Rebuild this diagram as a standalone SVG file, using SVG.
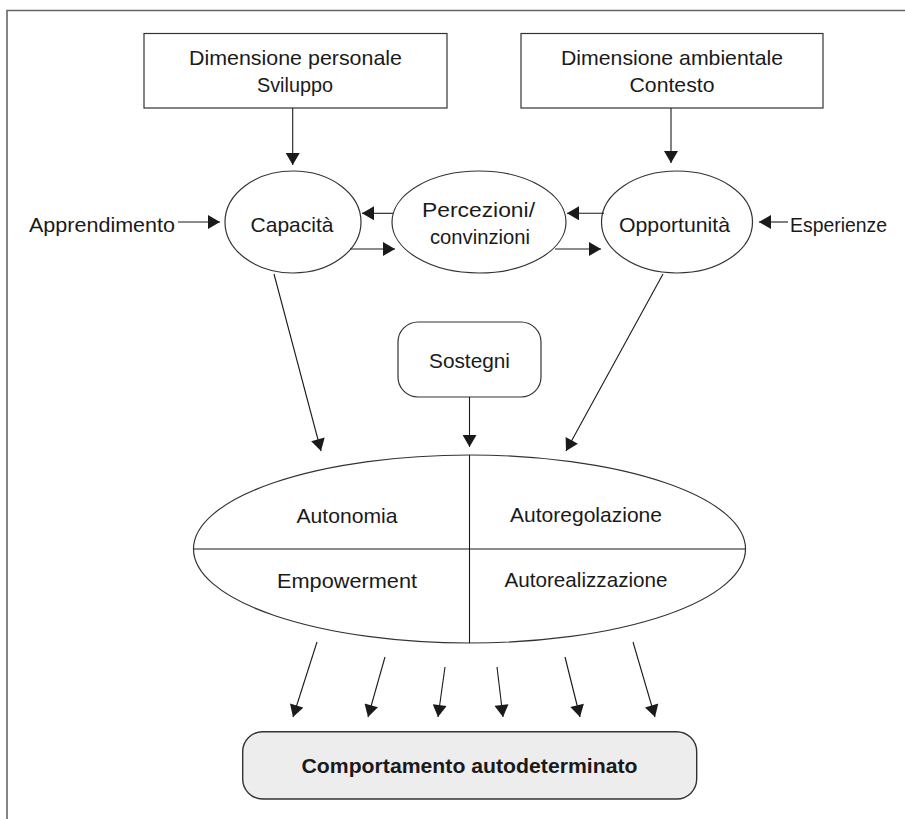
<svg xmlns="http://www.w3.org/2000/svg" width="905" height="819" viewBox="0 0 905 819">
<style>
text{font-family:"Liberation Sans",Arial,sans-serif;font-size:21px;fill:#1a1a1a;text-anchor:middle}
.b{font-weight:bold;font-size:20px}
.shape{fill:#fff;stroke:#333;stroke-width:1.2}
.ln{fill:none;stroke:#1a1a1a;stroke-width:1.1}
.frame{fill:none;stroke:#666;stroke-width:1.6}
</style>
<defs>
<marker id="ah" markerUnits="userSpaceOnUse" markerWidth="14" markerHeight="14" viewBox="0 0 12 14" refX="12" refY="7" orient="auto">
<path d="M0,0 L12,7 L0,14 Z" fill="#1a1a1a"/>
</marker>
</defs>
<path class="frame" d="M7,819 V10.5 H905"/>
<g id="dim-personale">
<rect class="shape" x="144" y="33.5" width="303" height="74.5"/>
<text x="295.5" y="65" textLength="213" lengthAdjust="spacingAndGlyphs">Dimensione personale</text>
<text x="295" y="92" textLength="76" lengthAdjust="spacingAndGlyphs">Sviluppo</text>
</g>
<g id="dim-ambientale">
<rect class="shape" x="521" y="33.5" width="302" height="74.5"/>
<text x="672" y="65" textLength="222" lengthAdjust="spacingAndGlyphs">Dimensione ambientale</text>
<text x="672" y="92" textLength="85" lengthAdjust="spacingAndGlyphs">Contesto</text>
</g>
<g id="apprendimento"><text x="102" y="232" textLength="146" lengthAdjust="spacingAndGlyphs">Apprendimento</text></g>
<g id="esperienze"><text x="838.5" y="232" textLength="97" lengthAdjust="spacingAndGlyphs">Esperienze</text></g>
<g id="capacita">
<ellipse class="shape" cx="293" cy="222" rx="68" ry="51"/>
<text x="292" y="232" textLength="83" lengthAdjust="spacingAndGlyphs">Capacità</text>
</g>
<g id="percezioni">
<ellipse class="shape" cx="479" cy="222" rx="87" ry="51"/>
<text x="478.5" y="217" textLength="113" lengthAdjust="spacingAndGlyphs">Percezioni/</text>
<text x="480" y="244" textLength="100" lengthAdjust="spacingAndGlyphs">convinzioni</text>
</g>
<g id="opportunita">
<ellipse class="shape" cx="677" cy="222" rx="75.5" ry="51"/>
<text x="674.5" y="232" textLength="111" lengthAdjust="spacingAndGlyphs">Opportunità</text>
</g>
<g id="sostegni">
<rect class="shape" x="398" y="322" width="143" height="75" rx="20"/>
<text x="469.5" y="368" textLength="81" lengthAdjust="spacingAndGlyphs">Sostegni</text>
</g>
<g id="componenti">
<ellipse class="shape" cx="469.5" cy="549" rx="276" ry="94"/>
<line class="ln" x1="469.5" y1="455" x2="469.5" y2="643"/>
<line class="ln" x1="193.5" y1="549" x2="745.5" y2="549"/>
<text x="347" y="523" textLength="101" lengthAdjust="spacingAndGlyphs">Autonomia</text>
<text x="586" y="522" textLength="152" lengthAdjust="spacingAndGlyphs">Autoregolazione</text>
<text x="347" y="588" textLength="140" lengthAdjust="spacingAndGlyphs">Empowerment</text>
<text x="586" y="587" textLength="163" lengthAdjust="spacingAndGlyphs">Autorealizzazione</text>
</g>
<g id="comportamento">
<rect x="242.7" y="731.7" width="454" height="67.3" rx="20" fill="#ededed" stroke="#333" stroke-width="1.4"/>
<text class="b" x="469.5" y="773" textLength="336" lengthAdjust="spacingAndGlyphs">Comportamento autodeterminato</text>
</g>
<g id="connectors" class="ln" marker-end="url(#ah)">
<line x1="292.7" y1="108" x2="292.7" y2="165" marker-end="url(#ah)"/>
<line x1="671" y1="108" x2="671" y2="163" marker-end="url(#ah)"/>
<line x1="178" y1="222" x2="220" y2="222" marker-end="url(#ah)"/>
<line x1="788" y1="222" x2="759" y2="222" marker-end="url(#ah)"/>
<line x1="393" y1="213.3" x2="362" y2="213.3" marker-end="url(#ah)"/>
<line x1="350" y1="249" x2="395" y2="249" marker-end="url(#ah)"/>
<line x1="604" y1="213.3" x2="567" y2="213.3" marker-end="url(#ah)"/>
<line x1="555" y1="249" x2="601" y2="249" marker-end="url(#ah)"/>
<line x1="274" y1="274" x2="321" y2="451" marker-end="url(#ah)"/>
<line x1="663" y1="274" x2="566" y2="451" marker-end="url(#ah)"/>
<line x1="469.5" y1="397" x2="469.5" y2="447" marker-end="url(#ah)"/>
<line x1="317" y1="642" x2="293" y2="717" marker-end="url(#ah)"/>
<line x1="385" y1="657" x2="368" y2="717" marker-end="url(#ah)"/>
<line x1="445" y1="667" x2="438" y2="717" marker-end="url(#ah)"/>
<line x1="497" y1="667" x2="503" y2="717" marker-end="url(#ah)"/>
<line x1="565" y1="657" x2="580" y2="717" marker-end="url(#ah)"/>
<line x1="633" y1="642" x2="655" y2="717" marker-end="url(#ah)"/>
</g>
</svg>
